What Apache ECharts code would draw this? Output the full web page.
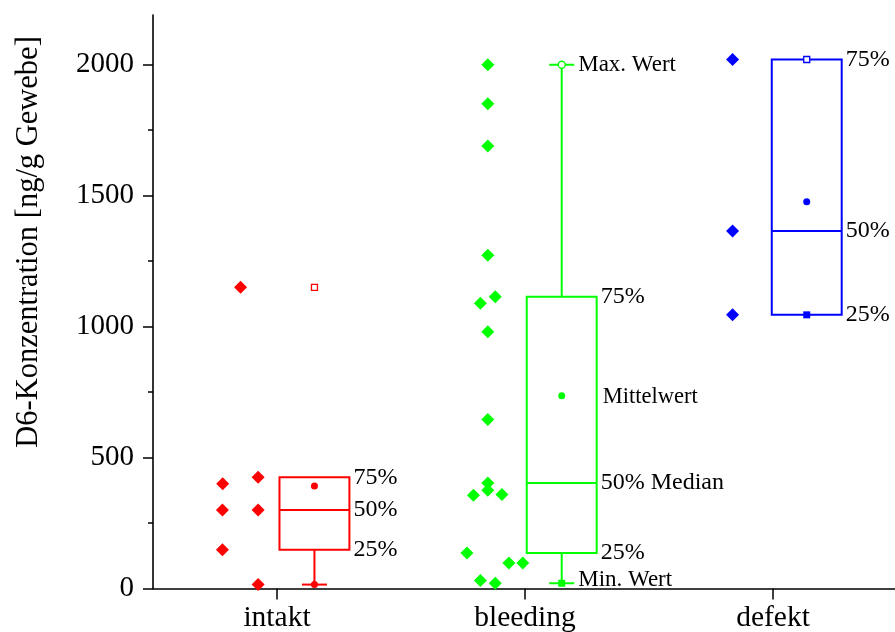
<!DOCTYPE html>
<html>
<head>
<meta charset="utf-8">
<script src="https://cdn.jsdelivr.net/npm/echarts@6/dist/echarts.min.js"></script>
<style>
html,body{margin:0;padding:0;background:#fff;}
#chart{width:895px;height:632px;}
</style>
</head>
<body>
<div id="chart"></div>
<script>
// ---------- data ----------
const categories = ['intakt', 'bleeding', 'defekt'];

const intaktValues = [1150, 400, 425, 300, 300, 148, 15];
const intaktJitter = [-0.147, -0.219, -0.076, -0.220, -0.076, -0.220, -0.076];

const bleedingValues = [2000, 1851, 1690, 1273, 1089, 1114, 980, 645, 403, 375, 356, 359, 136, 97, 97, 31, 20];
const bleedingJitter = [-0.150, -0.150, -0.150, -0.150, -0.180, -0.120, -0.150, -0.150, -0.150, -0.150, -0.208, -0.093, -0.234, -0.065, -0.009, -0.180, -0.120];

const defektValues = [2020, 1365, 1045];
const defektJitter = [-0.163, -0.163, -0.163];

// box statistics: [25%, 50%, 75%]
const intaktBox = [148, 300, 425];
const bleedingBox = [136, 403, 1114];
const defektBox = [1045, 1365, 2020];

// whisker ends [low, high]
const intaktWhisker = [15, 425];
const bleedingWhisker = [20, 2000];
const defektWhisker = [1045, 2020];

// box labels
const intaktLabels = ['25%', '50%', '75%'];
const bleedingLabels = ['25%', '50% Median', '75%'];
const defektLabels = ['25%', '50%', '75%'];
const meanLabel = 'Mittelwert';
const maxLabel = 'Max. Wert';
const minLabel = 'Min. Wert';

const yTicks = [0, 500, 1000, 1500, 2000];
const yMinorTicks = [250, 750, 1250, 1750];
const yAxisTitle = 'D6-Konzentration [ng/g Gewebe]';

// ---------- layout / style ----------
const FONT = '"Liberation Serif", "Times New Roman", serif';
const groups = [
  {values: intaktValues, jitter: intaktJitter, box: intaktBox, whisker: intaktWhisker, labels: intaktLabels,
   color: '#ff0000', boxOffset: 0.151, maxSym: 'rectHollow', minSym: 'circle', extra: false},
  {values: bleedingValues, jitter: bleedingJitter, box: bleedingBox, whisker: bleedingWhisker, labels: bleedingLabels,
   color: '#00ff00', boxOffset: 0.148, maxSym: 'circleHollow', minSym: 'rect', extra: true},
  {values: defektValues, jitter: defektJitter, box: defektBox, whisker: defektWhisker, labels: defektLabels,
   color: '#0000ff', boxOffset: 0.136, maxSym: 'rectHollow', minSym: 'rect', extra: false}
];

function mean(a) { return a.reduce((s, v) => s + v, 0) / a.length; }

const series = [];
groups.forEach((g, gi) => {
  series.push({
    type: 'scatter',
    xAxisIndex: 1, yAxisIndex: 0,
    symbol: 'diamond', symbolSize: 13,
    itemStyle: {color: g.color, opacity: 1},
    data: g.values.map((v, i) => [gi + 1 + g.jitter[i], v]),
    silent: true, z: 3
  });
  const item = [gi + 1 + g.boxOffset, g.box[0], g.box[1], g.box[2], g.whisker[0], g.whisker[1],
    mean(g.values), Math.min(...g.values), Math.max(...g.values)];
  series.push({
    type: 'custom',
    xAxisIndex: 1, yAxisIndex: 0,
    clip: false, silent: true, z: 4,
    data: [item],
    renderItem: function (params, api) {
      const x = api.value(0);
      const unit = api.size([1, 0])[0];
      const hw = unit * 0.141;
      const capHw = 12.5;
      const c = g.color;
      const p = v => api.coord([x, v]);
      const cx = p(api.value(1))[0];
      const yQ1 = p(api.value(1))[1], yMed = p(api.value(2))[1], yQ3 = p(api.value(3))[1];
      const yWL = p(api.value(4))[1], yWH = p(api.value(5))[1];
      const yMean = p(api.value(6))[1], yMin = p(api.value(7))[1], yMax = p(api.value(8))[1];
      const ls = {stroke: c, lineWidth: 2, fill: null};
      const ch = [];
      ch.push({type: 'rect', shape: {x: cx - hw, y: yQ3, width: 2 * hw, height: yQ1 - yQ3}, style: ls});
      ch.push({type: 'line', shape: {x1: cx - hw, y1: yMed, x2: cx + hw, y2: yMed}, style: ls});
      if (api.value(5) > api.value(3)) {
        ch.push({type: 'line', shape: {x1: cx, y1: yQ3, x2: cx, y2: yWH}, style: ls});
        ch.push({type: 'line', shape: {x1: cx - capHw, y1: yWH, x2: cx + capHw, y2: yWH}, style: ls});
      }
      if (api.value(4) < api.value(1)) {
        ch.push({type: 'line', shape: {x1: cx, y1: yQ1, x2: cx, y2: yWL}, style: ls});
        ch.push({type: 'line', shape: {x1: cx - capHw, y1: yWL, x2: cx + capHw, y2: yWL}, style: ls});
      }
      // mean
      ch.push({type: 'circle', shape: {cx: cx, cy: yMean, r: 3.5}, style: {fill: c}});
      const marker = (sym, y) => {
        if (sym === 'rectHollow') return {type: 'rect', shape: {x: cx - 3, y: y - 3, width: 6, height: 6}, style: {fill: '#fff', stroke: c, lineWidth: 1.3}};
        if (sym === 'circleHollow') return {type: 'circle', shape: {cx: cx, cy: y, r: 3.5}, style: {fill: '#fff', stroke: c, lineWidth: 1.3}};
        if (sym === 'circle') return {type: 'circle', shape: {cx: cx, cy: y, r: 3.5}, style: {fill: c}};
        return {type: 'rect', shape: {x: cx - 3.5, y: y - 3.5, width: 7, height: 7}, style: {fill: c}};
      };
      ch.push(marker(g.maxSym, yMax));
      ch.push(marker(g.minSym, yMin));
      const txt = (t, tx, ty, fs) => ({type: 'text', x: tx, y: ty,
        style: {text: t, fill: '#000', fontSize: fs, fontFamily: FONT, align: 'left', verticalAlign: 'middle'}});
      ch.push(txt(g.labels[0], cx + hw + 4, yQ1, 24));
      ch.push(txt(g.labels[1], cx + hw + 4, yMed, 24));
      ch.push(txt(g.labels[2], cx + hw + 4, yQ3, 24));
      if (g.extra) {
        ch.push(txt(meanLabel, cx + hw + 6, yMean + 1, 22.5));
        ch.push(txt(maxLabel, cx + capHw + 4, yMax, 23));
        ch.push(txt(minLabel, cx + capHw + 4, yMin - 3, 23));
      }
      return {type: 'group', children: ch};
    }
  });
});

const chart = echarts.init(document.getElementById('chart'), null, {renderer: 'canvas'});
chart.setOption({
  animation: false,
  backgroundColor: '#fff',
  grid: {left: 153, width: 744, top: 15, bottom: 43.5, containLabel: false, outerBoundsMode: 'none'},
  xAxis: [
    {
      type: 'category', data: categories, boundaryGap: true,
      axisLine: {show: true, lineStyle: {color: '#000', width: 1.6}},
      axisTick: {show: true, alignWithLabel: true, length: 11, inside: false, lineStyle: {color: '#000', width: 1.5}},
      axisLabel: {color: '#000', fontSize: 29.5, fontFamily: FONT, margin: 15},
      splitLine: {show: false}
    },
    {type: 'value', min: 0.5, max: 3.5, show: false}
  ],
  yAxis: [
    {
      type: 'value', min: 0, max: 2190, position: 'left',
      axisLine: {show: true, lineStyle: {color: '#000', width: 1.6}},
      axisTick: {show: true, length: 10, inside: false, customValues: yTicks, lineStyle: {color: '#000', width: 1.5}},
      axisLabel: {color: '#000', fontSize: 29, fontFamily: FONT, margin: 19, customValues: yTicks,
        formatter: v => String(v)},
      splitLine: {show: false}
    },
    {
      type: 'value', min: 0, max: 2190, position: 'left', offset: 0,
      axisLine: {show: false},
      axisTick: {show: true, length: 5, inside: false, customValues: yMinorTicks, lineStyle: {color: '#000', width: 1.5}},
      axisLabel: {show: false},
      splitLine: {show: false}
    }
  ],
  graphic: [{
    type: 'text', x: 29, y: 242, rotation: Math.PI / 2,
    style: {text: yAxisTitle, fill: '#000', fontSize: 30.5, fontFamily: FONT, align: 'center', verticalAlign: 'middle'}
  }],
  series: series
});
</script>
</body>
</html>
